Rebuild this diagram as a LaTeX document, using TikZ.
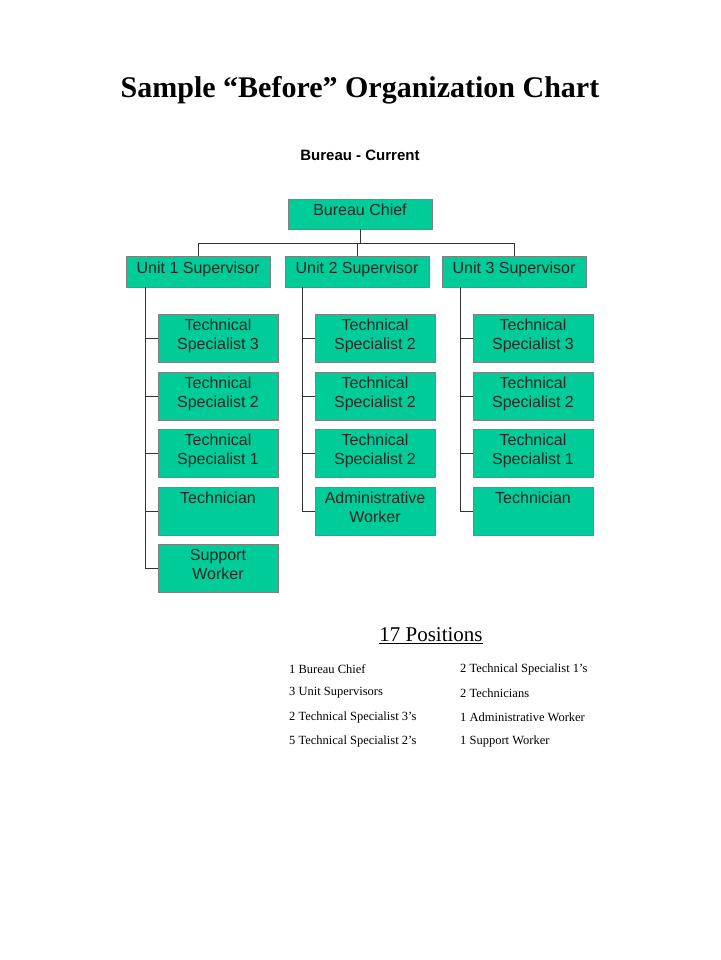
\documentclass[tikz,border=0pt]{standalone}
\usepackage{fontspec}
\setmainfont{Liberation Serif}
\setsansfont{Liberation Sans}
\definecolor{boxg}{HTML}{00CC99}
\definecolor{boxb}{HTML}{808080}
\begin{document}
\begin{tikzpicture}[x=1pt,y=-1pt,
  bx/.style={draw=boxb,fill=boxg,line width=0.8pt},
  bt/.style={font=\sffamily\fontsize{16}{19}\selectfont,align=center,anchor=north,inner sep=0pt,text=black!85},
  ln/.style={draw=black!80,line width=1pt},
  li/.style={font=\fontsize{12.5}{14}\selectfont,anchor=west,inner sep=0pt}]
\useasboundingbox (0,0) rectangle (720,960);
\fill[white] (0,0) rectangle (720,960);
\node[font=\bfseries\fontsize{30}{34}\selectfont] (title) at (360,90) {Sample “Before” Organization Chart};
\node[font=\sffamily\bfseries\fontsize{15}{18}\selectfont] (sub) at (360,155) {Bureau - Current};
% top
\path[bx] (288,199) rectangle (432,229) coordinate (chiefbr);
\node[bt] (chief) at (360,204) {Bureau Chief};
\foreach \n/\l/\r/\t in {u1/126/270/Unit 1 Supervisor,u2/285/429/Unit 2 Supervisor,u3/442/586/Unit 3 Supervisor}{
  \path[bx] (\l,256) rectangle (\r,287);
  \node[bt] (\n) at ({(\l+\r)/2},262) {\t};
}
\coordinate (c) at (360,229);
\coordinate (bus) at (360,243);
\draw[ln] (c) -- (bus);
\draw[ln] (198,256) -- (198,243) -- (514,243) -- (514,256);
\draw[ln] (357,243) -- (357,256);
% children
\newcommand\kid[5]{% name, left x, top y, text
  \path[bx] (#2,#3) rectangle ({#2+120},{#3+48});
  \node[bt] (#1) at ({#2+60},{#3+5}) {#4};
  \draw[ln] ({#2-13},{#3+24}) -- (#2,{#3+24});}
\foreach \x/\vx/\last in {158/145/568, 315/302/511, 473/460/511}{
  \draw[ln] (\vx,287) -- (\vx,\last) -- (\x,\last);
}
\kid{a1}{158}{314}{Technical\\Specialist 3}{}
\kid{a2}{158}{372}{Technical\\Specialist 2}{}
\kid{a3}{158}{429}{Technical\\Specialist 1}{}
\kid{a4}{158}{487}{Technician}{}
\kid{a5}{158}{544}{Support\\Worker}{}
\kid{b1}{315}{314}{Technical\\Specialist 2}{}
\kid{b2}{315}{372}{Technical\\Specialist 2}{}
\kid{b3}{315}{429}{Technical\\Specialist 2}{}
\kid{b4}{315}{487}{Administrative\\Worker}{}
\kid{c1}{473}{314}{Technical\\Specialist 3}{}
\kid{c2}{473}{372}{Technical\\Specialist 2}{}
\kid{c3}{473}{429}{Technical\\Specialist 1}{}
\kid{c4}{473}{487}{Technician}{}
\node[font=\fontsize{21}{24}\selectfont] (pos) at (431,636) {\underline{17 Positions}};
\node[li] (l1) at (289,669) {1 Bureau Chief};
\node[li] (l2) at (289,693) {3 Unit Supervisors};
\node[li] (l3) at (289,717) {2 Technical Specialist 3’s};
\node[li] (l4) at (289,741) {5 Technical Specialist 2’s};
\node[li] (r1) at (460,669) {2 Technical Specialist 1’s};
\node[li] (r2) at (460,693) {2 Technicians};
\node[li] (r3) at (460,717) {1 Administrative Worker};
\node[li] (r4) at (460,741) {1 Support Worker};
\end{tikzpicture}
\end{document}
